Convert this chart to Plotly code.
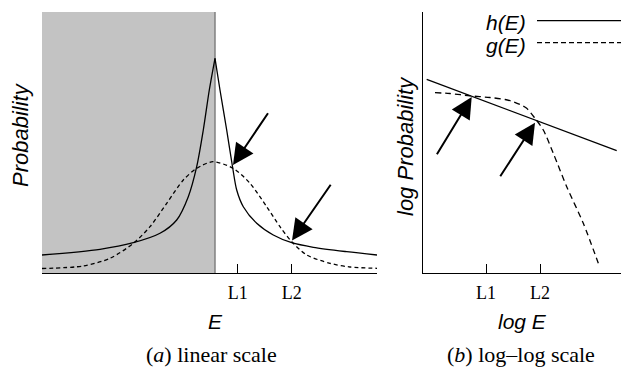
import plotly.graph_objects as go

# ---------- data ----------
# (a) linear scale: E in [0,100], Probability in [0,100]
h_rise_E = [0, 17.31, 27.25, 35.22, 40.21, 43.67, 46.18, 48.15, 49.94, 51.64]
h_rise_P = [6.90, 9.08, 11.61, 15.21, 20.31, 29.23, 40.73, 54.79, 70.11, 82.26]
h_fall_E = [51.64, 53.13, 55.13, 56.93, 58.12, 60.09, 64.09, 69.04, 74.54, 80.99, 90.96, 100]
h_fall_P = [82.26, 70.11, 54.79, 40.23, 31.80, 25.40, 19.04, 14.56, 11.61, 9.85, 8.16, 6.90]

g_lin_E = [0, 12.24, 20.30, 27.25, 32.24, 37.22, 42.18, 46.18, 51.04, 57.10, 62.09,
           67.07, 71.04, 74.54, 79.01, 85.97, 91.94, 100]
g_lin_P = [1.72, 2.68, 5.63, 11.38, 17.74, 26.70, 35.63, 40.11, 42.64, 40.04, 34.37,
           25.40, 17.74, 11.99, 6.90, 3.72, 2.30, 1.80]

shade_end_E = 51.64
lin_tick_vals = [58.42, 74.54]
tick_text = ["L1", "L2"]

# arrows (tail -> tip) in data units
lin_arrows = [((67.76, 61.80), (57.01, 41.38)), ((86.48, 34.37), (74.63, 12.45))]

# (b) log-log scale
h_log_x = [1.87, 97.83]
h_log_y = [74.21, 46.86]
g_log_x = [6.06, 13.64, 23.74, 33.84, 41.41, 45.61, 48.99, 52.37, 56.57, 60.76,
           65.81, 72.58, 80.96, 88.54]
g_log_y = [69.08, 68.77, 67.89, 67.24, 66.48, 65.63, 64.56, 63.10, 59.27, 54.79,
           45.86, 33.07, 19.04, 3.72]
log_tick_vals = [31.82, 59.09]
log_arrows = [((6.57, 44.94), (24.60, 67.43)), ((38.54, 36.51), (56.57, 57.59))]

# ---------- figure ----------
W, H = 626, 367
def px_x(p): return p / W
def px_y(p): return 1 - p / H

SANS = "Liberation Sans, Arial, sans-serif"
SERIF = "Liberation Serif, Times New Roman, serif"
LW = 1.3

fig = go.Figure()

for xs, ys in [(h_rise_E, h_rise_P), (h_fall_E, h_fall_P)]:
    fig.add_trace(go.Scatter(x=xs, y=ys, mode="lines", xaxis="x", yaxis="y",
                             line=dict(color="black", width=LW, shape="spline", smoothing=0.8),
                             showlegend=False, hoverinfo="skip"))
fig.add_trace(go.Scatter(x=g_lin_E, y=g_lin_P, mode="lines", xaxis="x", yaxis="y",
                         line=dict(color="black", width=LW, dash="4px,3px", shape="spline", smoothing=0.8),
                         showlegend=False, hoverinfo="skip"))
fig.add_trace(go.Scatter(x=h_log_x, y=h_log_y, mode="lines", xaxis="x2", yaxis="y2",
                         line=dict(color="black", width=LW),
                         showlegend=False, hoverinfo="skip"))
fig.add_trace(go.Scatter(x=g_log_x, y=g_log_y, mode="lines", xaxis="x2", yaxis="y2",
                         line=dict(color="black", width=LW, dash="6px,4px", shape="spline", smoothing=0.8),
                         showlegend=False, hoverinfo="skip"))

# shaded region
fig.add_shape(type="rect", xref="x", yref="y", x0=0, x1=shade_end_E, y0=0, y1=100,
              fillcolor="#c3c3c3", line=dict(width=0), layer="below")
fig.add_shape(type="line", xref="x", yref="y", x0=shade_end_E, x1=shade_end_E, y0=0, y1=100,
              line=dict(color="#808080", width=1.5), layer="below")

annotations = []
for (tail, tip) in lin_arrows:
    annotations.append(dict(x=tip[0], y=tip[1], ax=tail[0], ay=tail[1], xref="x", yref="y",
                            axref="x", ayref="y", showarrow=True, arrowhead=2, arrowsize=2.1,
                            arrowwidth=2, arrowcolor="black", standoff=0, text=""))
for (tail, tip) in log_arrows:
    annotations.append(dict(x=tip[0], y=tip[1], ax=tail[0], ay=tail[1], xref="x2", yref="y2",
                            axref="x2", ayref="y2", showarrow=True, arrowhead=2, arrowsize=2.1,
                            arrowwidth=2, arrowcolor="black", standoff=0, text=""))

def txt(text, x, y, font, size, xanchor="center", angle=0):
    annotations.append(dict(text=text, x=px_x(x), y=px_y(y), xref="paper", yref="paper",
                            showarrow=False, xanchor=xanchor, yanchor="middle", textangle=angle,
                            font=dict(family=font, size=size, color="black")))

txt("<i>Probability</i>", 20, 135, SANS, 22, angle=-90)
txt("<i>log Probability</i>", 405, 146, SANS, 22, angle=-90)
txt("<i>E</i>", 215, 321, SANS, 21)
txt("<i>log E</i>", 522, 321, SANS, 21)
txt("(<i>a</i>) linear scale", 211, 354, SERIF, 22)
txt("(<i>b</i>) log\u2013log scale", 521, 354, SERIF, 22)
txt("<i>h(E)</i>", 528, 22, SANS, 21, xanchor="right")
txt("<i>g(E)</i>", 528, 45, SANS, 21, xanchor="right")

# legend lines
fig.add_shape(type="line", xref="paper", yref="paper", x0=px_x(537), x1=px_x(621),
              y0=px_y(20.7), y1=px_y(20.7), line=dict(color="black", width=LW))
fig.add_shape(type="line", xref="paper", yref="paper", x0=px_x(537), x1=px_x(621),
              y0=px_y(42.7), y1=px_y(42.7), line=dict(color="black", width=LW, dash="5px,3px"))

ydom = [px_y(273), px_y(12)]
common_x = dict(showgrid=False, zeroline=False, showline=True, linecolor="black", linewidth=LW,
                ticks="inside", ticklen=9, tickwidth=LW, tickcolor="black",
                tickfont=dict(family=SERIF, size=18, color="black"), ticktext=tick_text,
                tickmode="array", range=[0, 100], fixedrange=True, ticklabelstandoff=3)
fig.update_layout(
    width=W, height=H, margin=dict(l=0, r=0, t=0, b=0),
    paper_bgcolor="white", plot_bgcolor="white", showlegend=False,
    xaxis=dict(domain=[px_x(42), px_x(377)], anchor="y", tickvals=lin_tick_vals, **common_x),
    yaxis=dict(domain=ydom, anchor="x", range=[0, 100], visible=False, fixedrange=True),
    xaxis2=dict(domain=[px_x(423), px_x(621)], anchor="y2", tickvals=log_tick_vals, **common_x),
    yaxis2=dict(domain=ydom, anchor="x2", range=[0, 100], showgrid=False, zeroline=False,
                showline=True, linecolor="black", linewidth=LW, showticklabels=False,
                ticks="", fixedrange=True),
    annotations=annotations,
)

fig.write_html("out.html", config={"displayModeBar": False},
               post_script="document.body.style.margin='0';document.body.style.overflow='hidden';")
